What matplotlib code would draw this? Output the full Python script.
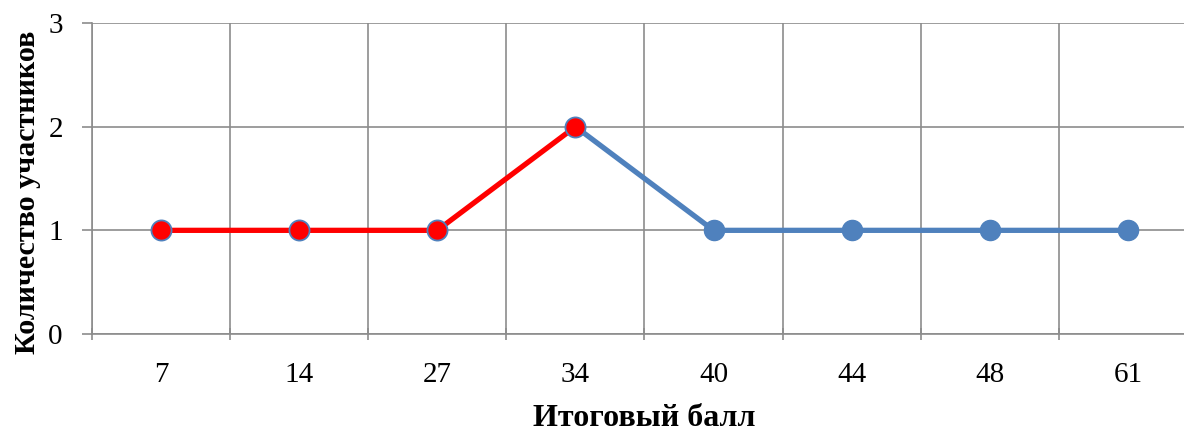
import matplotlib.pyplot as plt
import numpy as np

# data
scores = ['7', '14', '27', '34', '40', '44', '48', '61']
counts = [1, 1, 1, 2, 1, 1, 1, 1]
n_red = 4  # first points drawn in red

plt.rcParams['font.family'] = ['Liberation Serif', 'DejaVu Serif']

fig = plt.figure(figsize=(11.84, 4.32), dpi=100)
W, H = 1184., 432.
left, right, top, bottom = 92, 1197, 23, 334
ax = fig.add_axes([left / W, 1 - bottom / H, (right - left) / W, (bottom - top) / H])

x = np.arange(len(scores))
blue = '#4F81BD'
grid_c = '#8C8C8C'

ax.plot(x[n_red - 1:], counts[n_red - 1:], color=blue, lw=3.8, zorder=3, solid_capstyle='round')
ax.plot(x[:n_red], counts[:n_red], color='red', lw=3.8, zorder=4, solid_capstyle='round')
ax.plot(x[:n_red], counts[:n_red], 'o', ms=14.5, mfc='red', mec=blue, mew=1.3, zorder=5)
ax.plot(x[n_red:], counts[n_red:], 'o', ms=14.5, mfc=blue, mec=blue, zorder=5)

ax.set_xlim(-0.5, len(scores) - 0.5)
ax.set_ylim(0, 3)
ax.set_yticks([0, 1, 2, 3])
ax.set_xticks(x)
ax.set_xticklabels(scores)
ax.set_xticks(np.arange(len(scores) + 1) - 0.5, minor=True)
ax.tick_params(axis='x', which='major', length=0, labelsize=21, pad=20)
ax.tick_params(axis='x', which='minor', length=9, direction='inout', color=grid_c, width=1.2)
ax.tick_params(axis='y', length=7, direction='out', color=grid_c, width=1.2, labelsize=21, pad=14)

ax.grid(True, axis='y', color=grid_c, lw=1.2)
ax.grid(True, axis='x', which='minor', color=grid_c, lw=1.2)
ax.set_axisbelow(True)
for s in ['top', 'right']:
    ax.spines[s].set_visible(False)
for s in ['left', 'bottom']:
    ax.spines[s].set_color(grid_c)
    ax.spines[s].set_linewidth(1.2)

ax.set_xlabel('Итоговый балл', fontsize=23, fontweight='bold', labelpad=12)
ax.set_ylabel('Количество участников', fontsize=21.7, fontweight='bold')
ax.yaxis.set_label_coords(-51 / (right - left), 0.457)

fig.savefig('out.png', dpi=100)
